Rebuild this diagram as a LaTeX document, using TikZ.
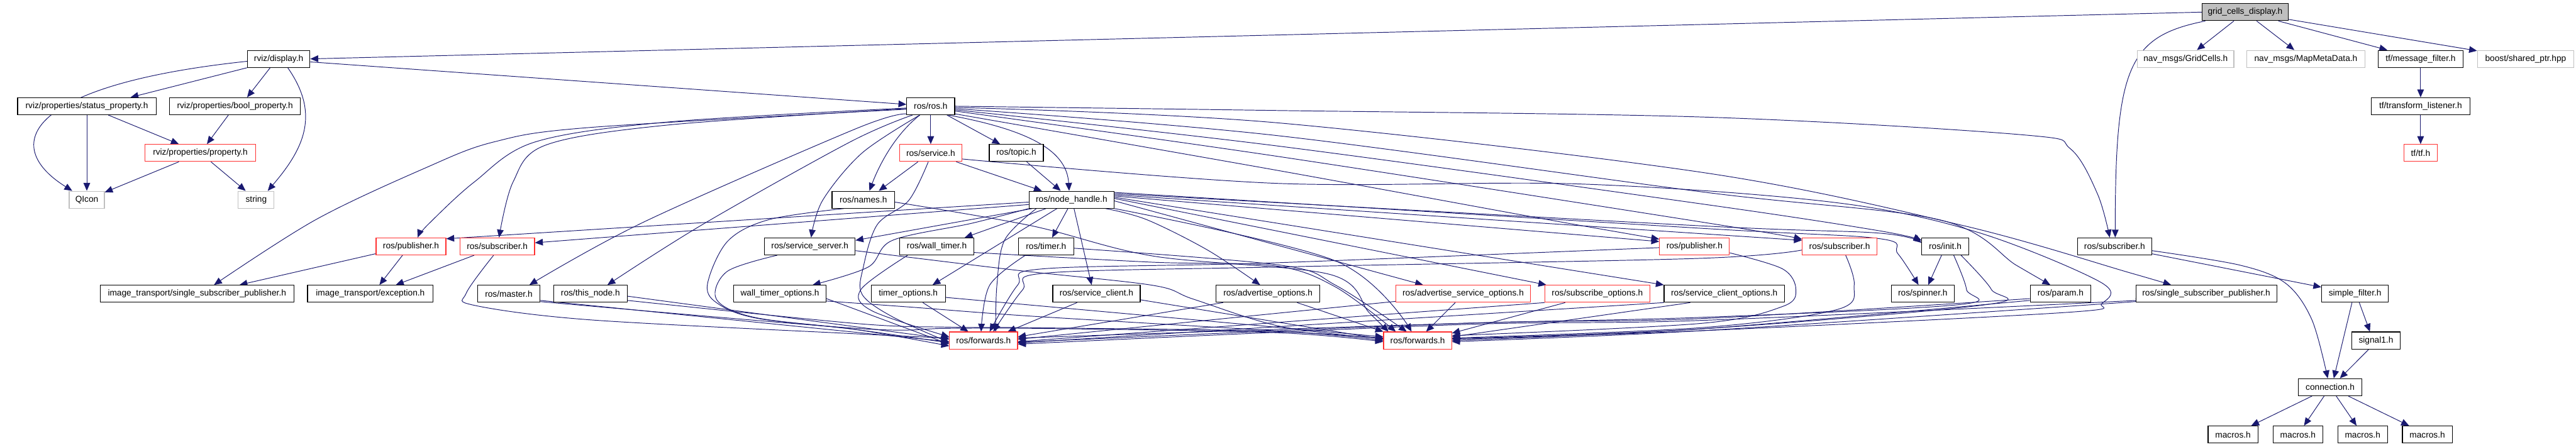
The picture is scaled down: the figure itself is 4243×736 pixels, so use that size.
\documentclass[tikz,border=0pt]{standalone}
\usepackage{fontspec}
\setmainfont{Liberation Sans}
\usetikzlibrary{arrows.meta,calc}
\pgfdeclarelayer{bg}
\pgfsetlayers{bg,main}
\definecolor{edgec}{RGB}{25,25,112}
\definecolor{redb}{RGB}{255,48,48}
\definecolor{grayb}{RGB}{191,191,191}
\definecolor{gfill}{RGB}{191,191,191}
\tikzset{
 nb/.style={draw=black, line width=0.6pt, rectangle, minimum height=14pt, inner sep=0pt,
   font=\fontsize{7.1pt}{8.5pt}\selectfont, text=black, fill=white},
 rb/.style={nb, draw=redb},
 gb/.style={nb, draw=grayb},
 arr/.style={draw=edgec, line width=0.5pt, -{Triangle[length=6.5pt,width=5.5pt]}},
}
\newcommand{\edgeplot}[1]{\draw[arr] plot[smooth,tension=0.55] coordinates {#1};}
\begin{document}
\begin{tikzpicture}[x=0.5pt,y=-0.5pt]
\useasboundingbox (0,0) rectangle (4243,736);
\begin{pgfonlayer}{bg}
\fill[white] (0,0) rectangle (4243,736);
\end{pgfonlayer}
% ---------- nodes ----------
\node[nb,fill=gfill,minimum width=71pt] (G) at (3698,20) {grid\_cells\_display.h};
\node[nb,minimum width=51.5pt] (D) at (459,97) {rviz/display.h};
\node[gb,minimum width=79.5pt] (gridcells) at (3600,97) {nav\_msgs/GridCells.h};
\node[gb,minimum width=97pt] (mapmeta) at (3798,97) {nav\_msgs/MapMetaData.h};
\node[nb,minimum width=70pt] (msgfilter) at (3987,97) {tf/message\_filter.h};
\node[gb,minimum width=79.5pt] (sharedptr) at (4160,97) {boost/shared\_ptr.hpp};
\node[nb,minimum width=114pt] (status) at (143,175) {rviz/properties/status\_property.h};
\node[nb,minimum width=107.5pt] (boolp) at (387,175) {rviz/properties/bool\_property.h};
\node[nb,minimum width=39.5pt] (R) at (1533,175) {ros/ros.h};
\node[nb,minimum width=81.5pt] (tflisten) at (3987,175) {tf/transform\_listener.h};
\node[rb,minimum width=91pt] (prop) at (330,252) {rviz/properties/property.h};
\node[rb,minimum width=51.5pt] (service) at (1533,252) {ros/service.h};
\node[nb,minimum width=44.5pt] (topic) at (1674,252) {ros/topic.h};
\node[rb,minimum width=27.5pt] (tftf) at (3987,252) {tf/tf.h};
\node[gb,minimum width=29pt] (qicon) at (143,329) {QIcon};
\node[gb,minimum width=29.5pt] (str) at (422,329) {string};
\node[nb,minimum width=51.5pt] (names) at (1422,329) {ros/names.h};
\node[nb,minimum width=70pt] (NH) at (1765,329) {ros/node\_handle.h};
\node[rb,minimum width=57.5pt] (pubL) at (677,406) {ros/publisher.h};
\node[rb,minimum width=61.5pt] (subL) at (819,406) {ros/subscriber.h};
\node[nb,minimum width=74.5pt] (sserver) at (1334,406) {ros/service\_server.h};
\node[nb,minimum width=61pt] (wtimer) at (1543,406) {ros/wall\_timer.h};
\node[nb,minimum width=45.5pt] (timer) at (1723,406) {ros/timer.h};
\node[rb,minimum width=57.5pt] (pubR) at (2791,406) {ros/publisher.h};
\node[rb,minimum width=61.5pt] (subR) at (3030,406) {ros/subscriber.h};
\node[nb,minimum width=38.5pt] (init) at (3204,406) {ros/init.h};
\node[nb,minimum width=61pt] (subB) at (3483,406) {ros/subscriber.h};
\node[nb,minimum width=159.5pt] (itssp) at (324.5,484) {image\_transport/single\_subscriber\_publisher.h};
\node[nb,minimum width=103.5pt] (itexc) at (610,484) {image\_transport/exception.h};
\node[nb,minimum width=51.5pt] (master) at (838,484) {ros/master.h};
\node[nb,minimum width=60.5pt] (thisnode) at (972.5,484) {ros/this\_node.h};
\node[nb,minimum width=76pt] (wto) at (1284.5,484) {wall\_timer\_options.h};
\node[nb,minimum width=61pt] (topt) at (1496,484) {timer\_options.h};
\node[nb,minimum width=72pt] (sclient) at (1806,484) {ros/service\_client.h};
\node[nb,minimum width=85.5pt] (advopt) at (2088.5,484) {ros/advertise\_options.h};
\node[rb,minimum width=111pt] (advsrv) at (2410,484) {ros/advertise\_service\_options.h};
\node[rb,minimum width=86.5pt] (subopt) at (2631,484) {ros/subscribe\_options.h};
\node[nb,minimum width=99pt] (scopt) at (2840,484) {ros/service\_client\_options.h};
\node[nb,minimum width=52pt] (spinner) at (3167,484) {ros/spinner.h};
\node[nb,minimum width=50pt] (param) at (3394,484) {ros/param.h};
\node[nb,minimum width=116pt] (rssp) at (3634,484) {ros/single\_subscriber\_publisher.h};
\node[nb,minimum width=55pt] (sfilter) at (3879,484) {simple\_filter.h};
\node[rb,minimum width=56pt] (fwdL) at (1620,561) {ros/forwards.h};
\node[rb,minimum width=56pt] (fwdR) at (2335,561) {ros/forwards.h};
\node[nb,minimum width=39.5pt] (signal) at (3913.5,561) {signal1.h};
\node[nb,minimum width=52pt] (conn) at (3838,638) {connection.h};
\node[nb,minimum width=41pt] (m1) at (3678,716) {macros.h};
\node[nb,minimum width=41pt] (m2) at (3785,716) {macros.h};
\node[nb,minimum width=41pt] (m3) at (3891.5,716) {macros.h};
\node[nb,minimum width=41pt] (m4) at (3998,716) {macros.h};
% ---------- edges ----------
\begin{pgfonlayer}{bg}
% top
\draw[arr] (G.west) -- (D.east);
\draw[arr] ([xshift=3pt]G.south west) .. controls (3505,60) and (3484,110) .. ([xshift=0.5pt]subB.north);
\draw[arr] (G) -- (gridcells);
\draw[arr] (G) -- (mapmeta);
\draw[arr] (G) -- (msgfilter);
\draw[arr] (G) -- (sharedptr);
\draw[arr] (msgfilter) -- (tflisten);
\draw[arr] (tflisten) -- (tftf);
% rviz cluster
\draw[arr] (D.south west) -- ([xshift=36pt]status.north);
\draw[arr] ([xshift=-7pt]D.south) -- ([xshift=10pt]boolp.north);
\draw[arr] ([yshift=-2pt]D.west) .. controls (40,140) and (0,240) .. ([xshift=-12pt]qicon.north);
\draw[arr] ([xshift=7.5pt]D.south) .. controls (525,185) and (505,240) .. ([xshift=9.5pt]str.north);
\draw[arr] (status) -- (qicon);
\draw[arr] (status) -- (prop);
\draw[arr] (boolp) -- (prop);
\draw[arr] (prop) -- (qicon);
\draw[arr] (prop) -- (str);
% ros.h
\draw[arr] ([yshift=-2.5pt]D.east) -- ([yshift=1.5pt]R.west);
\draw[arr] (R) -- (service);
\draw[arr] (R) -- (topic);
\draw[arr] ([xshift=-5.5pt]R.south east) .. controls (1700,215) and (1757,250) .. ([xshift=-2pt]NH.north);
\draw[arr] ([xshift=-9pt]R.south) .. controls (1470,225) and (1445,280) .. ([xshift=5pt]names.north);
\draw[arr] ([xshift=-10.5pt]service.south) -- ([xshift=12.75pt]names.north);
\draw[arr] ([xshift=21pt]service.south) -- ([xshift=-24.5pt]NH.north);
\draw[arr] (topic) -- ([xshift=-9pt]NH.north);
% ros.h to the left
\edgeplot{([yshift=-2.5pt]R.west) (972,210) (813,234) (700,277) (520,362) ([xshift=14pt]itssp.north)}
\edgeplot{([yshift=-1.5pt]R.west) (1100,201) (881,234) (781,300) (705,370) ([xshift=5.5pt]pubL.north)}
\edgeplot{([yshift=-2pt]R.west) (1100,206) (899,239) (845,300) ([xshift=1.5pt]subL.north)}
\edgeplot{([yshift=1pt]R.south west) (1410,212) (1060,366) ([xshift=17pt]master.north)}
\edgeplot{([xshift=5pt]R.south west) (1400,234) (1157,370) ([xshift=14pt]thisnode.north)}
\edgeplot{([xshift=11pt]R.south west) (1420,252) (1355,330) ([xshift=1pt]sserver.north)}
% ros.h to the right
\edgeplot{(R.east) (2100,182) (2810,193) (3330,222) (3410,245) (3455,320) ([xshift=-4pt]subB.north)}
\edgeplot{([yshift=-1pt]R.east) (2100,202) (2810,285) (3235,372) (3510,450) ([xshift=-29pt]rssp.north)}
\edgeplot{([yshift=-2pt]R.east) (2100,223) (2810,317) (3194,362) (3321,437) ([xshift=-8.5pt]param.north)}
\edgeplot{([yshift=-3pt]R.east) (2100,240) (2810,337) (3094,380) ([yshift=5pt]init.west)}
\edgeplot{([yshift=-4pt]R.east) (2100,257) (2810,367) ([yshift=6pt]subR.west)}
\edgeplot{([yshift=1pt]R.south east) (2100,280) (2539,360) ([yshift=6pt]pubR.west)}
% service.h long loop
\edgeplot{([yshift=-5pt]service.east) (2100,302) (2598,303) (3017,333) (3255,382) (3460,465) (3462,500) (3400,515) (2800,545) ([yshift=1pt]fwdR.east)}
% node_handle.h
\draw[arr] ([yshift=-2pt]NH.west) -- ([yshift=-1pt]pubL.north east);
\draw[arr] ([yshift=-4pt]NH.west) -- ([yshift=3pt]subL.east);
\draw[arr] ([xshift=3pt]NH.south west) -- ([yshift=5pt]sserver.east);
\draw[arr] ([xshift=-21pt]NH.south) -- ([xshift=23pt]wtimer.north);
\draw[arr] ([xshift=-3pt]NH.south) -- ([xshift=5pt]timer.north);
\draw[arr] ([xshift=-12pt]NH.south) -- ([xshift=20pt]topt.north);
\draw[arr] ([xshift=2pt]NH.south) -- ([xshift=-4pt]sclient.north);
\edgeplot{([xshift=28pt]NH.south) (1889,362) (1989,412) ([xshift=-6.5pt]advopt.north)}
\edgeplot{(NH.south west) (1600,368) (1470,396) (1430,440) ([xshift=27pt]wto.north)}
\draw[arr] ([yshift=-1pt]NH.east) -- ([xshift=-33pt]advsrv.north);
\draw[arr] ([yshift=1pt]NH.east) -- ([xshift=-42pt]subopt.north);
\draw[arr] ([yshift=2pt]NH.east) -- (scopt.north west);
\draw[arr] ([yshift=3pt]NH.east) -- ([yshift=4pt]pubR.west);
\draw[arr] ([yshift=4pt]NH.east) -- ([yshift=5pt]subR.west);
\edgeplot{([yshift=5pt]NH.east) (2800,372) (3094,384) ([yshift=3pt]init.west)}
\edgeplot{([yshift=6pt]NH.east) (2800,376) (3094,393) (3126,418) ([xshift=-3.5pt]spinner.north)}
\draw[arr] ([xshift=-3pt]init.south) -- ([xshift=4.5pt]spinner.north);
\edgeplot{([xshift=-29pt]NH.south) (1655,395) (1642,470) ([xshift=10pt]fwdL.north)}
\edgeplot{(NH.south east) (2200,430) ([xshift=-5pt]fwdR.north)}
% image_transport
\draw[arr] ([yshift=-6pt]pubL.west) -- ([xshift=35pt]itssp.north);
\draw[arr] ([xshift=-7pt]pubL.south) -- ([xshift=7.5pt]itexc.north);
\draw[arr] ([xshift=-19pt]subL.south) -- ([xshift=21pt]itexc.north);
\edgeplot{([xshift=-3pt]subL.south) (768,483) (781,503) (972,527) (1410,550) ([yshift=2pt]fwdL.west)}
% into forwards (left)
\draw[arr] ([yshift=-5.5pt]master.east) -- ([yshift=-1pt]fwdL.west);
\edgeplot{([yshift=-6.5pt]master.east) (1410,541) (1560,541) (1700,541) (2100,548) ([yshift=-1pt]fwdR.west)}
\draw[arr] ([yshift=-2pt]thisnode.east) -- ([yshift=1pt]fwdL.west);
\edgeplot{([yshift=-5.5pt]thisnode.east) (1410,533) (1560,539) (1700,540) (2100,546) (fwdR.west)}
\edgeplot{([xshift=-27pt]sserver.south) (1198,447) (1180,493) (1243,523) (1410,543) ([yshift=-2pt]fwdL.west)}
\edgeplot{([yshift=-3.5pt]sserver.east) (1672,445) (1898,470) (1966,493) (2110,538) ([yshift=1.5pt]fwdR.west)}
\edgeplot{([xshift=-24pt]wtimer.south) (1418,477) (1436,512) ([yshift=3pt]fwdL.west)}
\edgeplot{([yshift=-5pt]wtimer.east) (1898,432) (2100,438) (2200,473) ([xshift=-18pt]fwdR.north)}
\edgeplot{([xshift=-17pt]timer.south) (1630,470) ([xshift=-2pt]fwdL.north)}
\edgeplot{([yshift=-1.5pt]timer.east) (2110,437) (2200,470) ([xshift=-9pt]fwdR.north)}
\edgeplot{([yshift=-4pt]wto.east) (1410,510) ([yshift=-3pt]fwdL.west)}
\edgeplot{([yshift=-6pt]wto.east) (1500,506) (1700,521) (2100,545) ([yshift=2pt]fwdR.west)}
\draw[arr] ([xshift=12pt]topt.south) -- ([xshift=-12.5pt]fwdL.north);
\draw[arr] ([yshift=-3pt]topt.east) -- ([yshift=3pt]fwdR.west);
\draw[arr] ([xshift=-16pt]sclient.south) -- ([xshift=20pt]fwdL.north);
\draw[arr] ([yshift=-5pt]sclient.east) -- ([yshift=1pt]fwdR.west);
\edgeplot{([xshift=-16pt]names.south) (1266,362) (1198,398) (1165,470) (1185,502) (1250,525) (1410,543) ([yshift=-4.5pt]fwdL.west)}
\edgeplot{([yshift=-2pt]names.east) (1699,372) (1900,422) (2190,452) (2255,515) ([xshift=-24pt]fwdR.north)}
\edgeplot{([xshift=-2pt]service.south) (1497,330) (1445,370) (1422,440) (1420,485) (1470,522) ([yshift=-1.5pt]fwdL.west)}
% into forwards (right)
\draw[arr] ([xshift=-37pt]advopt.south) -- ([yshift=3pt]fwdL.east);
\draw[arr] ([xshift=24pt]advopt.south) -- (fwdR.north west);
\draw[arr] ([xshift=-6.5pt]advsrv.south) -- ([xshift=7pt]fwdR.north);
\draw[arr] ([yshift=1pt]advsrv.south west) -- ([yshift=1pt]fwdL.east);
\draw[arr] ([xshift=-26.5pt]subopt.south) -- ([yshift=6pt]fwdR.east);
\draw[arr] (subopt.south west) -- ([yshift=-1pt]fwdL.east);
\draw[arr] ([xshift=-28pt]scopt.south) -- ([yshift=3pt]fwdR.east);
\draw[arr] (scopt.south west) -- ([yshift=-2pt]fwdL.east);
\edgeplot{([yshift=-1pt]pubR.west) (2100,433) (1717,443) (1676,470) ([xshift=5pt]fwdL.north)}
\edgeplot{([yshift=2pt]pubR.south east) (2936,443) (2958,477) (2936,505) (2800,533) ([yshift=4pt]fwdR.east)}
\edgeplot{([yshift=-3pt]subR.west) (2790,426) (2100,440) (1722,450) (1684,478) ([xshift=8pt]fwdL.north)}
\edgeplot{([xshift=5pt]subR.south) (3054,470) (3026,510) (2800,540) ([yshift=2pt]fwdR.east)}
\edgeplot{([xshift=7pt]init.south) (3239,477) (3226,502) (2800,523) (2400,533) ([yshift=2pt]fwdL.east)}
\edgeplot{([xshift=13pt]init.south) (3280,477) (3271,502) (2800,542) ([yshift=1.5pt]fwdR.east)}
\edgeplot{([yshift=-4pt]param.west) (2800,525) (2400,533) ([yshift=-1.5pt]fwdL.east)}
\edgeplot{([yshift=-5.5pt]param.west) (2800,542) (fwdR.east)}
\edgeplot{([yshift=-4pt]rssp.west) (3500,496) (2800,528) (2400,535) ([yshift=-3pt]fwdL.east)}
\edgeplot{([yshift=-6pt]rssp.west) (3460,501) (2800,545) ([yshift=-1pt]fwdR.east)}
% message filters / signals
\draw[arr] (subB) -- (sfilter);
\edgeplot{([yshift=-3.5pt]subB.east) (3690,437) (3765,467) (3808,527) ([xshift=-2pt]conn.north)}
\draw[arr] ([xshift=-2.5pt]sfilter.south) -- ([xshift=3pt]conn.north);
\draw[arr] ([xshift=3.5pt]sfilter.south) -- ([xshift=-5pt]signal.north);
\draw[arr] ([xshift=-6pt]signal.south) -- ([xshift=8pt]conn.north);
\draw[arr] (conn) -- (m1);
\draw[arr] (conn) -- (m2);
\draw[arr] (conn) -- (m3);
\draw[arr] (conn) -- (m4);
\end{pgfonlayer}
\end{tikzpicture}
\end{document}
